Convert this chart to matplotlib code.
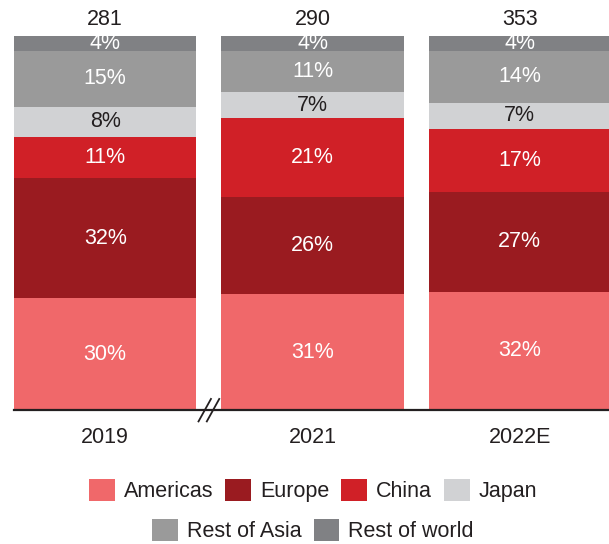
import matplotlib.pyplot as plt
from matplotlib.patches import Patch

plt.rcParams['font.family'] = ['Liberation Sans', 'DejaVu Sans']

years = ['2019', '2021', '2022E']
totals = [281, 290, 353]
regioes = ['Americas', 'Europe', 'China', 'Japan', 'Rest of Asia', 'Rest of world']
americas = [30, 31, 32]
europe = [32, 26, 27]
china = [11, 21, 17]
japan = [8, 7, 7]
rest_asia = [15, 11, 14]
rest_world = [4, 4, 4]

series = [americas, europe, china, japan, rest_asia, rest_world]
cores = ['#F0686A', '#9A1B20', '#D02027', '#D1D2D4', '#9A9A9A', '#808184']
cor_texto = ['white', 'white', 'white', '#231F20', 'white', 'white']
fs = 15.5

fig = plt.figure(figsize=(6.09, 5.44), dpi=100)
ax = fig.add_axes([0.023, 0.246, 0.977, 0.688])

x = list(range(len(years)))
largura = 0.88
# normaliza cada barra para 100%
somas = [sum(s[i] for s in series) for i in x]
base = [0.0] * len(x)
for s, cor, ct in zip(series, cores, cor_texto):
    alturas = [s[i] / somas[i] * 100 for i in x]
    ax.bar(x, alturas, largura, bottom=base, color=cor, linewidth=0)
    for i in x:
        ax.text(i, base[i] + alturas[i] / 2, f'{s[i]}%', ha='center', va='center',
                color=ct, fontsize=fs)
    base = [b + h for b, h in zip(base, alturas)]

for i, t in zip(x, totals):
    ax.text(i, 101.5, str(t), ha='center', va='bottom', fontsize=fs, color='#231F20')

ax.set_xlim(-0.44, 2.43)
ax.set_ylim(0, 100)
ax.set_xticks(x)
ax.set_xticklabels(years, fontsize=fs, color='#231F20')
ax.tick_params(axis='x', length=0, pad=12)
ax.set_yticks([])
for lado in ['top', 'left', 'right']:
    ax.spines[lado].set_visible(False)
ax.spines['bottom'].set_linewidth(1.6)
ax.spines['bottom'].set_color('#231F20')

# marca de quebra do eixo
for dx in [-0.02, 0.02]:
    ax.plot([0.5 + dx - 0.03, 0.5 + dx + 0.03], [-3, 3], color='#231F20',
            linewidth=1.3, clip_on=False)

handles = [Patch(facecolor=c, edgecolor='none') for c in cores]
opts = dict(frameon=False, fontsize=fs, handlelength=1.2, handleheight=1.2,
            handletextpad=0.42, columnspacing=0.55, labelcolor='#231F20')
fig.legend(handles[:4], regioes[:4], ncol=4, loc='center',
           bbox_to_anchor=(0.514, 0.098), **opts)
fig.legend(handles[4:], regioes[4:], ncol=2, loc='center',
           bbox_to_anchor=(0.514, 0.025), **opts)

plt.savefig('out.png', dpi=100)
